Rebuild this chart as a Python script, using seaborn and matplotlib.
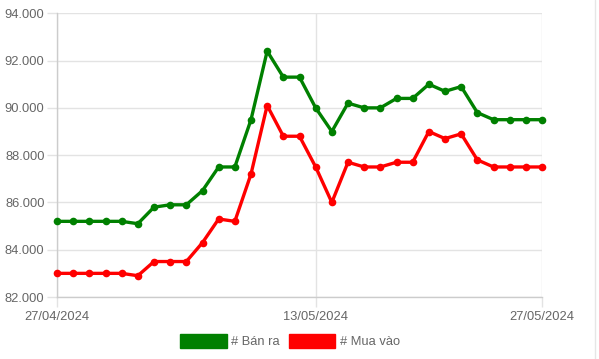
import matplotlib
matplotlib.use("Agg")
import matplotlib.pyplot as plt
from matplotlib.patches import Patch
from matplotlib.lines import Line2D
import matplotlib.ticker as mticker
import seaborn as sns
import pandas as pd

dates = pd.date_range("2024-04-27", "2024-05-27", freq="D")

ban_ra = [85200, 85200, 85200, 85200, 85200, 85100, 85800, 85900, 85900, 86500,
          87500, 87500, 89500, 92400, 91300, 91300, 90000, 89000, 90200, 90000,
          90000, 90400, 90400, 91000, 90700, 90900, 89800, 89500, 89500, 89500,
          89500]
mua_vao = [83000, 83000, 83000, 83000, 83000, 82900, 83500, 83500, 83500, 84300,
           85300, 85200, 87200, 90100, 88800, 88800, 87500, 86000, 87700, 87500,
           87500, 87700, 87700, 89000, 88700, 88900, 87800, 87500, 87500, 87500,
           87500]
series_names = ["# Bán ra", "# Mua vào"]
series_colors = ["#008000", "#ff0000"]
x_tick_labels = ["27/04/2024", "13/05/2024", "27/05/2024"]


def build_frame():
    df = pd.concat([
        pd.DataFrame({"date": dates, "value": ban_ra, "series": series_names[0]}),
        pd.DataFrame({"date": dates, "value": mua_vao, "series": series_names[1]}),
    ])
    return df


def main():
    sns.set_theme(style="white")
    plt.rcParams["font.family"] = ["Liberation Sans", "DejaVu Sans"]

    df = build_frame()
    fig = plt.figure(figsize=(5.99, 3.59), dpi=100)
    ax = fig.add_axes([57 / 599, 1 - 297 / 359, 485 / 599, (297 - 13.3) / 359])

    sns.lineplot(data=df, x="date", y="value", hue="series",
                 palette=dict(zip(series_names, series_colors)),
                 marker="o", markersize=5.5, markeredgewidth=0,
                 linewidth=2.4, legend=False, ax=ax, zorder=3)
    for line in ax.lines:
        line.set_clip_on(False)

    ax.set_ylim(82000, 94000)
    ax.set_yticks(range(82000, 94001, 2000))
    ax.yaxis.set_major_formatter(
        mticker.FuncFormatter(lambda v, p: f"{v:,.0f}".replace(",", ".")))
    ax.set_xlim(dates[0], dates[-1])
    tick_dates = [pd.to_datetime(t, format="%d/%m/%Y") for t in x_tick_labels]
    ax.set_xticks(tick_dates)
    ax.set_xticklabels(x_tick_labels)

    ax.set_xlabel("")
    ax.set_ylabel("")
    ax.grid(True, color="#e3e3e3", linewidth=1)
    ax.set_axisbelow(True)
    for side in ["top", "right"]:
        ax.spines[side].set_visible(False)
    for side in ["left", "bottom"]:
        ax.spines[side].set_color("#cccccc")
        ax.spines[side].set_linewidth(1)
    ax.tick_params(axis="y", length=7, width=1, color="#e3e3e3",
                   labelsize=9.3, labelcolor="#666666", pad=2, left=True)
    ax.tick_params(axis="x", length=7, width=1, color="#e3e3e3",
                   labelsize=9.3, labelcolor="#666666", pad=3, bottom=True)

    handles = [Patch(facecolor=c, edgecolor=c, alpha=1) for c in series_colors]
    fig.legend(handles, series_names, loc="center", ncol=2,
               bbox_to_anchor=(290 / 599, 1 - 341 / 359), frameon=False,
               handlelength=3.6, handleheight=1.25, handletextpad=0.35,
               columnspacing=0.7, fontsize=9.3, labelcolor="#666666")

    fig.add_artist(Line2D([595 / 599, 595 / 599], [0, 1], color="#e6e6e6",
                          linewidth=1, transform=fig.transFigure))

    fig.savefig("out.png", dpi=100)


if __name__ == "__main__":
    main()
